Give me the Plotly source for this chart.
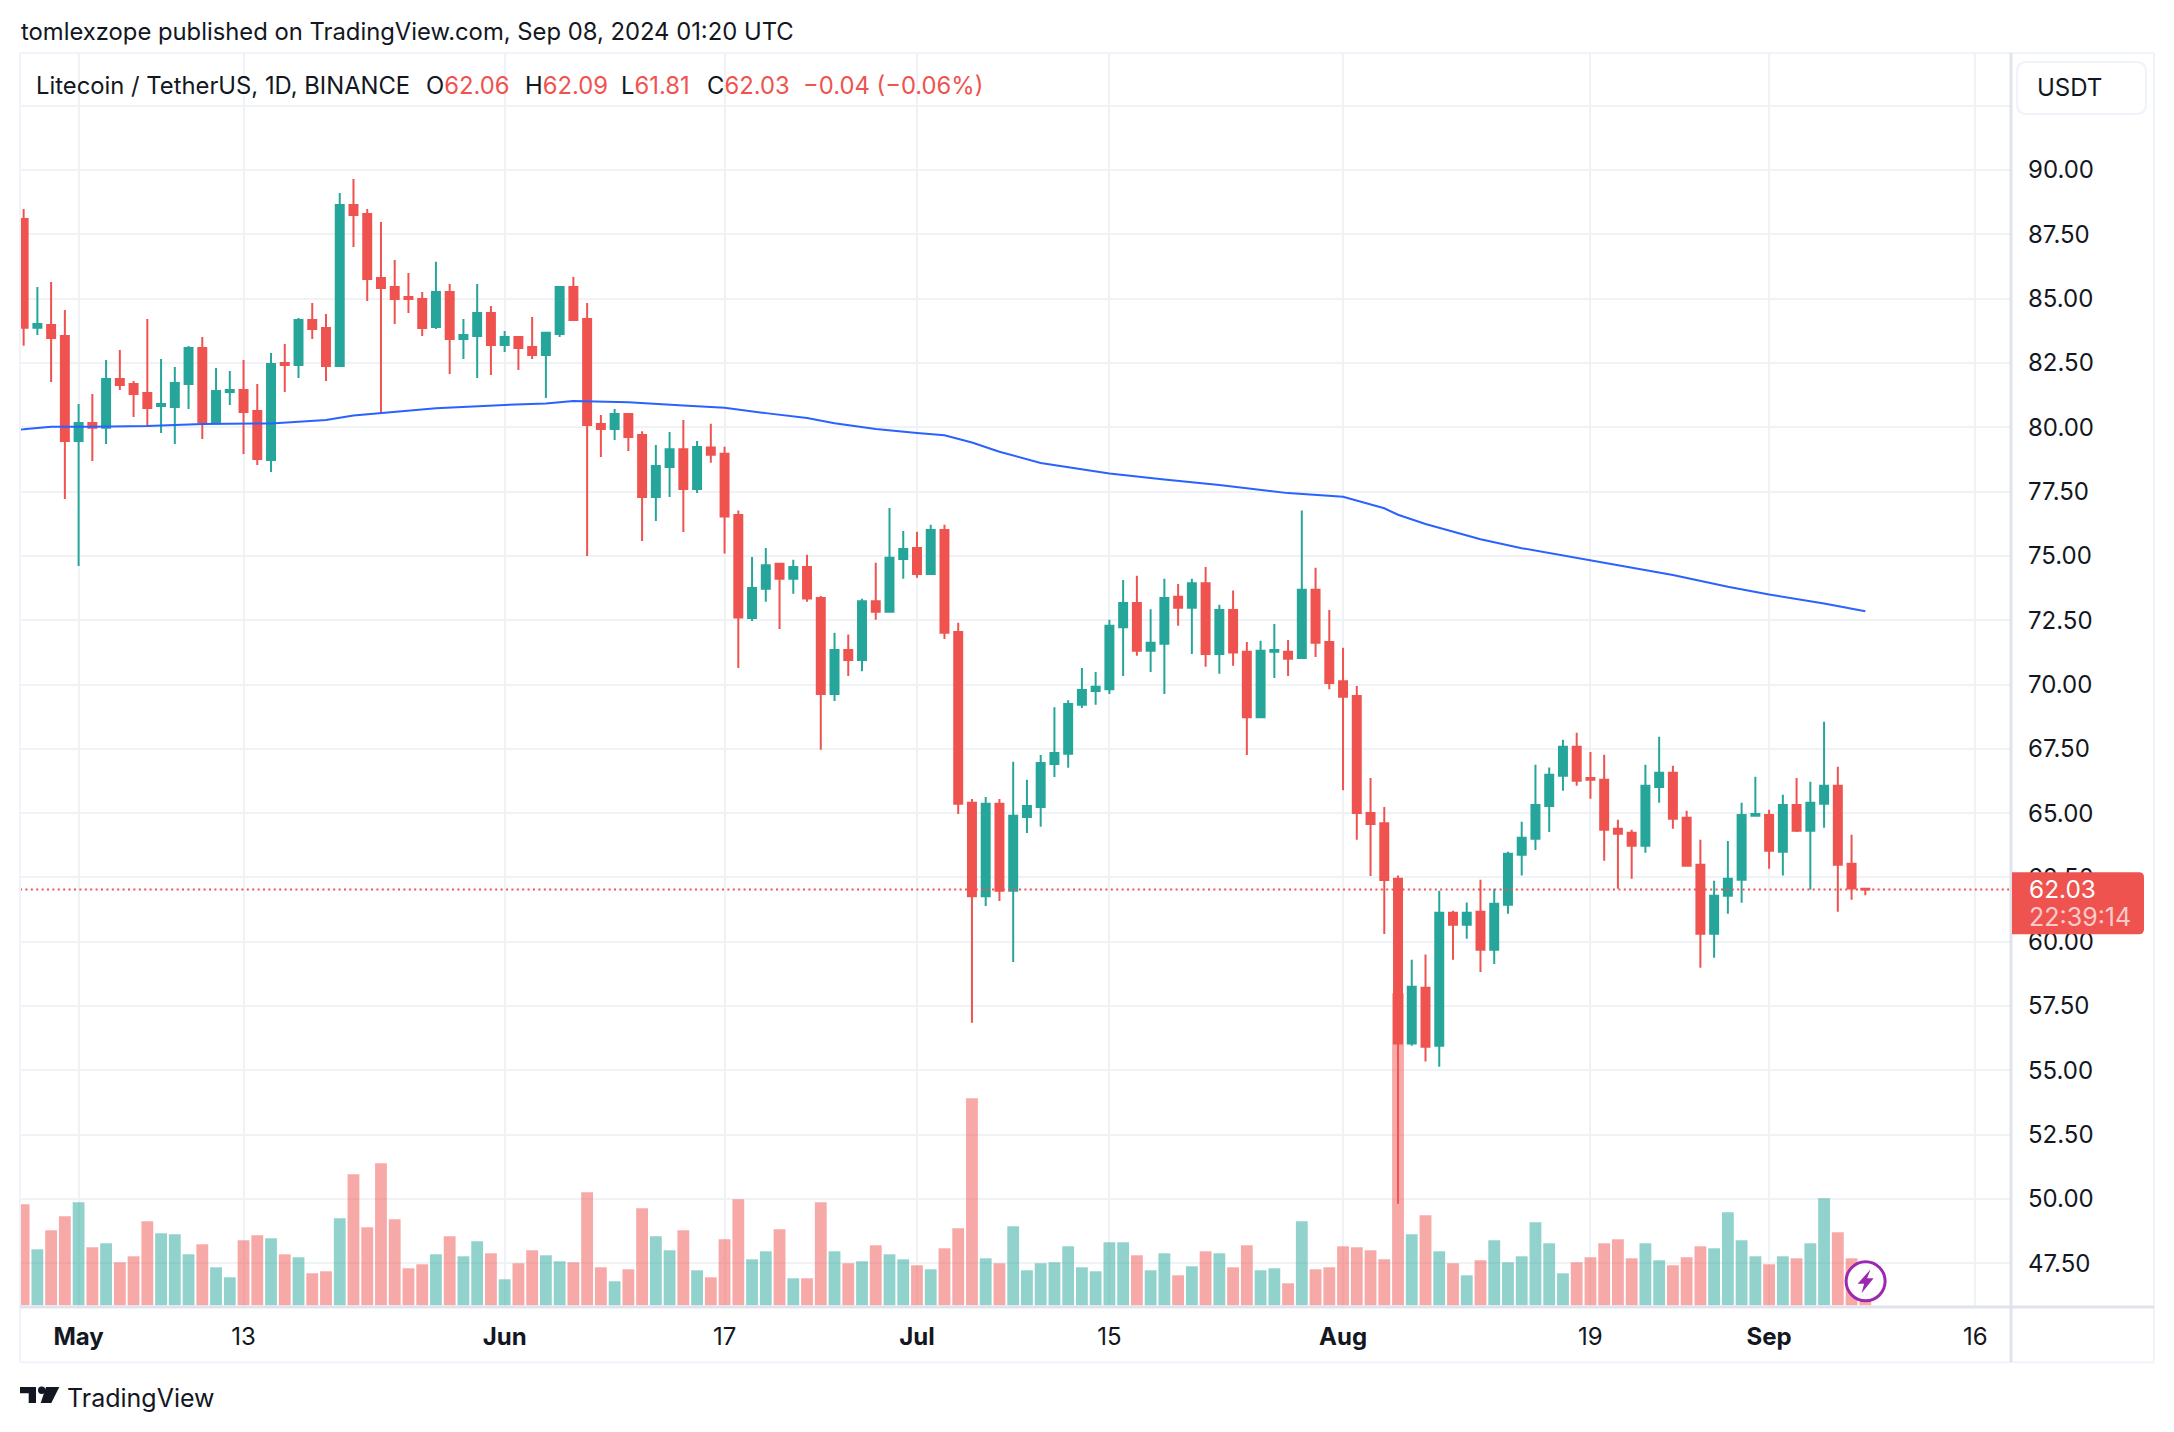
import pandas as pd
import plotly.graph_objects as go

FIRST_DAY = "2024-04-27"
opens = [88.10,83.87,83.98,83.55,79.47,80.17,79.98,81.88,81.68,81.33,80.83,80.79,81.68,83.08,80.20,81.37,81.45,80.63,78.73,82.50,
         82.42,84.17,83.86,82.38,88.64,88.29,85.80,85.45,85.06,84.99,83.90,85.26,83.43,83.55,84.44,83.20,83.51,83.12,82.81,83.63,
         85.45,84.21,80.13,79.93,80.52,79.70,77.29,78.46,79.15,77.60,79.21,78.97,76.59,72.59,73.72,74.69,74.11,74.57,73.36,69.63,
         71.34,70.95,73.24,72.83,74.88,75.31,74.30,76.01,72.04,65.40,61.77,65.36,61.98,64.85,65.24,66.91,67.31,69.21,69.75,69.82,
         72.23,73.17,71.31,71.58,73.41,72.98,73.94,71.19,72.90,71.27,68.73,71.27,71.27,71.03,73.68,71.65,70.13,69.55,65.00,64.61,
         62.45,56.04,58.21,55.96,61.13,60.66,61.17,59.69,61.44,63.38,64.00,65.28,66.45,67.58,66.37,66.30,64.39,64.24,63.73,66.02,
         66.57,64.82,62.99,60.31,61.79,62.41,64.90,64.93,63.50,65.32,64.31,65.36,66.06,63.03,62.06]
highs = [88.49,85.45,85.65,84.56,80.90,81.29,82.62,83.00,81.80,84.21,82.65,82.34,83.16,83.51,82.30,82.19,82.62,81.68,82.89,83.24,
         84.25,84.83,84.40,89.11,89.65,88.49,87.98,86.50,86.00,85.26,86.43,85.57,84.21,85.57,84.71,83.74,83.55,84.29,83.70,85.49,
         85.84,84.83,80.48,80.71,80.52,79.85,79.31,79.82,80.28,79.47,80.14,79.24,76.76,74.96,75.31,74.69,74.85,75.04,73.44,72.01,
         71.94,73.33,74.73,76.86,75.97,75.94,76.21,76.21,72.40,65.55,65.63,65.55,67.00,66.30,67.26,69.12,69.39,70.64,70.49,72.52,
         74.06,74.23,72.93,74.11,73.91,74.11,74.57,73.10,73.65,71.65,71.70,72.35,71.73,76.76,74.54,72.90,71.43,69.94,66.37,65.24,
         62.57,59.30,59.50,61.98,61.20,61.53,62.41,62.06,63.50,64.66,66.88,66.77,67.85,68.12,67.38,67.27,64.74,64.35,66.88,67.97,
         66.84,65.09,63.96,62.37,63.92,65.40,66.41,65.13,65.71,66.37,66.22,68.55,66.80,64.16,62.09]
lows = [83.17,83.59,81.76,77.21,74.61,78.69,79.35,81.45,80.40,80.01,79.78,79.35,80.71,79.54,80.13,80.87,78.96,78.53,78.26,81.37,
        81.92,83.43,81.80,82.38,87.01,84.91,80.55,84.01,84.44,83.55,83.82,82.07,82.65,81.92,82.03,82.93,82.23,82.65,81.14,83.51,
        84.17,75.00,78.84,79.51,79.08,75.58,76.36,77.29,75.93,77.44,78.62,75.09,70.64,72.47,73.22,72.16,73.53,73.22,67.46,69.36,
        70.33,70.52,72.52,72.83,74.11,74.15,74.26,71.77,64.97,56.85,61.39,61.58,59.21,64.23,64.47,66.40,66.76,69.09,69.21,69.63,
        70.33,71.12,70.49,69.63,72.28,71.19,70.69,70.42,70.73,67.26,68.73,70.25,70.33,71.03,71.07,69.82,65.89,63.96,62.56,60.30,
        49.81,55.96,55.34,55.14,59.30,60.12,58.82,59.13,61.09,62.57,63.57,64.27,65.87,66.06,65.56,63.15,62.06,62.45,63.46,65.40,
        64.39,62.95,58.99,59.38,61.09,61.52,64.87,62.84,62.57,64.27,62.02,64.43,61.17,61.63,61.81]
closes = [83.87,84.01,83.47,79.47,80.17,79.98,81.88,81.64,81.29,80.75,80.90,81.72,83.08,80.20,81.41,81.45,80.59,78.77,82.46,82.42,
          84.17,83.82,82.38,88.64,88.25,85.76,85.41,84.99,84.99,83.86,85.26,83.43,83.59,84.44,83.20,83.51,83.08,82.81,83.67,85.45,
          84.17,80.09,79.93,80.52,79.62,77.29,78.49,79.15,77.60,79.23,78.93,76.53,72.60,73.75,74.64,74.11,74.57,73.34,69.63,71.34,
          70.95,73.24,72.83,74.93,75.27,74.30,76.01,72.01,65.36,61.77,65.36,61.98,64.90,65.28,66.95,67.34,69.24,69.79,69.91,72.28,
          73.17,71.31,71.62,73.36,72.98,73.94,71.19,72.90,71.24,68.73,71.31,71.34,71.00,73.68,71.62,70.06,69.52,65.00,64.58,62.40,
          56.04,58.25,55.92,61.13,60.66,61.13,59.69,61.48,63.42,64.04,65.32,66.49,67.58,66.26,66.30,64.35,64.20,63.73,66.06,66.57,
          64.78,62.95,60.31,61.79,62.45,64.93,64.97,63.54,65.32,64.31,65.40,66.06,62.99,62.07,62.03]
volumes = [303,168,225,267,309,174,186,129,147,252,216,213,153,183,114,84,195,210,201,153,
           144,96,102,261,393,234,426,258,111,123,153,207,147,192,156,78,126,165,150,132,
           129,339,114,72,108,291,207,165,225,105,84,198,318,138,162,228,81,81,309,162,
           126,132,180,153,138,120,108,171,231,621,141,126,237,105,126,129,177,114,102,189,
           189,150,105,156,90,117,162,156,114,180,105,111,66,252,108,114,177,174,165,138,
           936,213,270,162,126,90,135,195,129,147,249,186,96,129,144,186,198,141,186,135,
           120,144,177,171,279,195,147,123,147,141,186,321,219,141,12]
ma_dates = ["2024-04-26","2024-04-27","2024-04-29","2024-05-02","2024-05-06","2024-05-10","2024-05-15","2024-05-19","2024-05-21",
            "2024-05-23","2024-05-27","2024-06-01","2024-06-04","2024-06-06","2024-06-10","2024-06-14","2024-06-17","2024-06-20",
            "2024-06-23","2024-06-25","2024-06-28","2024-07-01","2024-07-03","2024-07-05","2024-07-07","2024-07-10","2024-07-12",
            "2024-07-15","2024-07-19","2024-07-23","2024-07-28","2024-08-01","2024-08-04","2024-08-05","2024-08-07","2024-08-11",
            "2024-08-14","2024-08-19","2024-08-22","2024-08-25","2024-08-29","2024-09-01","2024-09-05","2024-09-08"]
ma_values = [79.90,79.92,80.02,80.02,80.05,80.13,80.15,80.28,80.46,
             80.55,80.74,80.87,80.92,81.02,80.97,80.85,80.76,80.55,
             80.36,80.16,79.93,79.78,79.69,79.41,79.05,78.61,78.44,
             78.20,77.97,77.76,77.44,77.30,76.85,76.60,76.24,75.65,
             75.30,74.83,74.52,74.26,73.80,73.50,73.15,72.85]
x_tick_dates = ["2024-05-01","2024-05-13","2024-06-01","2024-06-17","2024-07-01","2024-07-15","2024-08-01","2024-08-19","2024-09-01","2024-09-16"]
x_tick_text = ["<b>May</b>","13","<b>Jun</b>","17","<b>Jul</b>","15","<b>Aug</b>","19","<b>Sep</b>","16"]
price_ticks = [47.5,50,52.5,55,57.5,60,62.5,65,67.5,70,72.5,75,77.5,80,82.5,85,87.5,90,92.5]
price_text = ["47.50","50.00","52.50","55.00","57.50","60.00","62.50","65.00","67.50","70.00","72.50","75.00","77.50","80.00","82.50","85.00","87.50","90.00",""]

UP, DOWN = "#26a69a", "#ef5350"
INK = "#131722"
GRID, FRAME, AXIS = "#f0f3f5", "#f0f3fa", "#e0e3eb"
FONT = "Inter"
L, R, T, B = 20, 2011, 53, 1306.7

dates = pd.date_range(FIRST_DAY, periods=len(opens), freq="D")
vol_colors = ["rgba(38,166,154,0.5)" if c >= o else "rgba(239,83,80,0.5)" for o, c in zip(opens, closes)]

def px(x):
    return (x - L) / (R - L)

def py(y):
    return (B - y) / (B - T)

def path(points, close=True):
    s = " ".join(("M" if i == 0 else "L") + f"{px(a):.5f},{py(b):.5f}" for i, (a, b) in enumerate(points))
    return s + (" Z" if close else "")

def rounded(x0, y0, x1, y1, rl, rr):
    return (f"M{px(x0+rl):.5f},{py(y0):.5f} L{px(x1-rr):.5f},{py(y0):.5f} Q{px(x1):.5f},{py(y0):.5f} {px(x1):.5f},{py(y0+rr):.5f} "
            f"L{px(x1):.5f},{py(y1-rr):.5f} Q{px(x1):.5f},{py(y1):.5f} {px(x1-rr):.5f},{py(y1):.5f} "
            f"L{px(x0+rl):.5f},{py(y1):.5f} Q{px(x0):.5f},{py(y1):.5f} {px(x0):.5f},{py(y1-rl):.5f} "
            f"L{px(x0):.5f},{py(y0+rl):.5f} Q{px(x0):.5f},{py(y0):.5f} {px(x0+rl):.5f},{py(y0):.5f} Z")

def note(x, y, text, size=23.8, color=INK, anchor="left"):
    return dict(xref="paper", yref="paper", x=px(x), y=py(y), text=text, showarrow=False, xanchor=anchor, yanchor="middle",
                align="left", borderpad=0, font=dict(family=FONT, size=size, color=color))

fig = go.Figure()
fig.add_bar(x=dates, y=volumes, marker=dict(color=vol_colors, line=dict(width=0)), yaxis="y", showlegend=False, hoverinfo="skip")
fig.add_candlestick(x=dates, open=opens, high=highs, low=lows, close=closes, yaxis="y2", whiskerwidth=0, showlegend=False,
                    increasing=dict(line=dict(color=UP, width=2), fillcolor=UP),
                    decreasing=dict(line=dict(color=DOWN, width=2), fillcolor=DOWN))
fig.add_scatter(x=ma_dates, y=ma_values, mode="lines", yaxis="y2", line=dict(color="#2962ff", width=2), showlegend=False, hoverinfo="skip")

shapes = [
    dict(type="line", xref="paper", yref="y2", x0=0, x1=1, y0=closes[-1], y1=closes[-1], line=dict(color=DOWN, width=2, dash="2px,3.4px")),
    dict(type="line", xref="paper", yref="paper", x0=px(L), x1=px(2154), y0=py(T), y1=py(T), line=dict(color=FRAME, width=2)),
    dict(type="line", xref="paper", yref="paper", x0=px(L), x1=px(2154), y0=py(1362), y1=py(1362), line=dict(color=FRAME, width=2)),
    dict(type="line", xref="paper", yref="paper", x0=px(L), x1=px(L), y0=py(T), y1=py(1362), line=dict(color=FRAME, width=2)),
    dict(type="line", xref="paper", yref="paper", x0=px(2154), x1=px(2154), y0=py(T), y1=py(1362), line=dict(color=FRAME, width=2)),
    dict(type="line", xref="paper", yref="paper", x0=px(L), x1=px(2154), y0=py(B), y1=py(B), line=dict(color=AXIS, width=3)),
    dict(type="line", xref="paper", yref="paper", x0=px(R), x1=px(R), y0=py(T), y1=py(1362), line=dict(color=AXIS, width=3)),
    dict(type="path", xref="paper", yref="paper", path=rounded(2017, 62, 2146, 114, 10, 10), fillcolor="white", line=dict(color=FRAME, width=2)),
    dict(type="path", xref="paper", yref="paper", path=rounded(2012, 872, 2144, 934, 0, 5), fillcolor=DOWN, line=dict(width=0)),
    dict(type="circle", xref="paper", yref="paper", x0=px(1865.6-19.5), x1=px(1865.6+19.5), y0=py(1281+19.5), y1=py(1281-19.5),
         fillcolor="white", line=dict(color="#9c27b0", width=3)),
    dict(type="path", xref="paper", yref="paper", fillcolor="#9c27b0", line=dict(width=0),
         path=path([(1865.6+a, 1281+b) for a, b in [(5,-12),(-8,2.5),(-1.5,2.5),(-4,12),(8,-3),(1.5,-3)]])),
    dict(type="path", xref="paper", yref="paper", fillcolor=INK, line=dict(width=0),
         path=path([(20,1386.7),(36,1386.7),(36,1402.7),(28.7,1402.7),(28.7,1393),(20,1393)])),
    dict(type="circle", xref="paper", yref="paper", fillcolor=INK, line=dict(width=0), x0=px(38), x1=px(45.4), y0=py(1393.7), y1=py(1386.3)),
    dict(type="path", xref="paper", yref="paper", fillcolor=INK, line=dict(width=0),
         path=path([(46,1386.7),(59.3,1386.7),(51.3,1402.7),(40.7,1402.7)])),
]

O, H, Lo, C = opens[-1], highs[-1], lows[-1], closes[-1]
chg = abs(C - closes[-2])
pct = chg / closes[-2] * 100
annotations = [
    note(20, 32, "tomlexzope published on TradingView.com, Sep 08, 2024 01:20 UTC"),
    note(35, 85, "Litecoin / TetherUS, 1D, BINANCE"),
    note(425, 85, f"O<span style='color:{DOWN}'>{O:.2f}</span>"),
    note(524, 85, f"H<span style='color:{DOWN}'>{H:.2f}</span>"),
    note(620, 85, f"L<span style='color:{DOWN}'>{Lo:.2f}</span>"),
    note(706, 85, f"C<span style='color:{DOWN}'>{C:.2f}</span>"),
    note(802, 85, f"−{chg:.2f} (−{pct:.2f}%)", color=DOWN),
    note(2036, 87, "USDT", size=24),
    note(2028, 889, f"{C:.2f}", size=24.4, color="white"),
    note(2028, 917, "22:39:14", size=25, color="#fccbc9"),
    note(66, 1398, "TradingView", size=25),
]

fig.update_layout(
    width=2174, height=1432, margin=dict(l=L, r=2174-R, t=T, b=1432-B, pad=0),
    paper_bgcolor="white", plot_bgcolor="white", boxgap=0.42, boxgroupgap=0, bargap=0.14,
    font=dict(family=FONT, size=24, color=INK), showlegend=False, hovermode=False,
    xaxis=dict(type="date", range=["2024-04-26 17:40", "2024-09-18 14:24"], tickmode="array", tickvals=x_tick_dates, ticktext=x_tick_text,
               showgrid=True, gridcolor=GRID, gridwidth=1.5, zeroline=False, showline=False, ticks="", ticklabelstandoff=13,
               tickfont=dict(family=FONT, size=24, color=INK), rangeslider=dict(visible=False)),
    yaxis=dict(range=[-5.1, 3756], visible=False, showgrid=False, zeroline=False),
    yaxis2=dict(overlaying="y", side="right", range=[45.80, 94.55], tickmode="array", tickvals=price_ticks, ticktext=price_text,
                showgrid=True, gridcolor=GRID, gridwidth=2, zeroline=False, showline=False, ticks="", ticklabelstandoff=16,
                tickfont=dict(family=FONT, size=24, color=INK)),
    shapes=shapes, annotations=annotations,
)
fig.write_html("out.html", config=dict(displayModeBar=False), post_script="document.body.style.margin='0';")
